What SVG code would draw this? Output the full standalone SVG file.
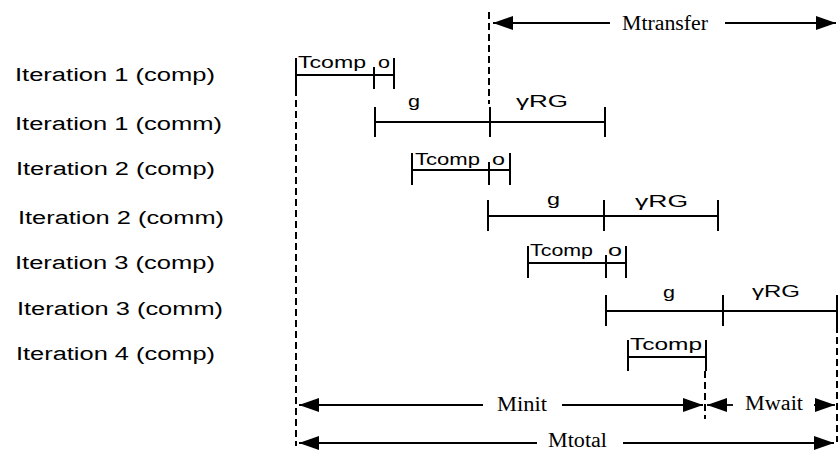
<svg xmlns="http://www.w3.org/2000/svg" width="838" height="450" viewBox="0 0 838 450">
<style>
.lbl{font-family:"Liberation Sans",Arial,sans-serif;font-size:18px;fill:#000}
.seg{font-family:"Liberation Sans",Arial,sans-serif;font-size:17px;fill:#000}
.mt{font-family:"Liberation Serif","Times New Roman",serif;font-size:20px;fill:#000}
.ln{stroke:#000;stroke-width:1.8;fill:none}
.tk{stroke:#000;stroke-width:2;fill:none}
.dash{stroke:#000;stroke-width:2;stroke-dasharray:7 4;fill:none}
.arr{stroke:#000;stroke-width:1.8;fill:none;marker-end:url(#ah)}
</style>
<defs>
<marker id="ah" markerUnits="userSpaceOnUse" markerWidth="20" markerHeight="14" refX="20" refY="7" orient="auto">
<path d="M0,0 L20,7 L0,14 z" fill="#000"/>
</marker>
</defs>
<rect width="838" height="450" fill="#fff"/>

<g id="labels">
<text class="lbl" x="15" y="81" textLength="200" lengthAdjust="spacingAndGlyphs">Iteration 1 (comp)</text>
<text class="lbl" x="15" y="130" textLength="207" lengthAdjust="spacingAndGlyphs">Iteration 1 (comm)</text>
<text class="lbl" x="16" y="175" textLength="199" lengthAdjust="spacingAndGlyphs">Iteration 2 (comp)</text>
<text class="lbl" x="18" y="224" textLength="206" lengthAdjust="spacingAndGlyphs">Iteration 2 (comm)</text>
<text class="lbl" x="15" y="269" textLength="200" lengthAdjust="spacingAndGlyphs">Iteration 3 (comp)</text>
<text class="lbl" x="17" y="315" textLength="206" lengthAdjust="spacingAndGlyphs">Iteration 3 (comm)</text>
<text class="lbl" x="16" y="360" textLength="199" lengthAdjust="spacingAndGlyphs">Iteration 4 (comp)</text>
</g>

<g id="iter1-comp">
<line class="ln" x1="296" y1="75" x2="394" y2="75"/>
<line class="tk" x1="296" y1="58" x2="296" y2="89"/>
<line class="tk" x1="374" y1="67" x2="374" y2="89"/>
<line class="tk" x1="394" y1="58" x2="394" y2="89"/>
<text class="seg" x="298" y="68" textLength="68" lengthAdjust="spacingAndGlyphs">Tcomp</text>
<text class="seg" x="378" y="68" textLength="12" lengthAdjust="spacingAndGlyphs">o</text>
</g>

<g id="iter1-comm">
<line class="ln" x1="375" y1="122" x2="605" y2="122"/>
<line class="tk" x1="375" y1="107" x2="375" y2="137"/>
<line class="tk" x1="490" y1="107" x2="490" y2="137"/>
<line class="tk" x1="605" y1="107" x2="605" y2="137"/>
<text class="seg" x="408" y="107" textLength="12" lengthAdjust="spacingAndGlyphs">g</text>
<text class="seg" x="516" y="107" textLength="52" lengthAdjust="spacingAndGlyphs">γRG</text>
</g>

<g id="iter2-comp">
<line class="ln" x1="412" y1="170" x2="510" y2="170"/>
<line class="tk" x1="412" y1="153" x2="412" y2="185"/>
<line class="tk" x1="489" y1="162" x2="489" y2="185"/>
<line class="tk" x1="510" y1="153" x2="510" y2="185"/>
<text class="seg" x="415" y="165" textLength="65" lengthAdjust="spacingAndGlyphs">Tcomp</text>
<text class="seg" x="492" y="165" textLength="13" lengthAdjust="spacingAndGlyphs">o</text>
</g>

<g id="iter2-comm">
<line class="ln" x1="488" y1="216" x2="718" y2="216"/>
<line class="tk" x1="488" y1="200" x2="488" y2="231"/>
<line class="tk" x1="604" y1="200" x2="604" y2="231"/>
<line class="tk" x1="718" y1="200" x2="718" y2="231"/>
<text class="seg" x="547" y="205" textLength="13" lengthAdjust="spacingAndGlyphs">g</text>
<text class="seg" x="635" y="207" textLength="53" lengthAdjust="spacingAndGlyphs">γRG</text>
</g>

<g id="iter3-comp">
<line class="ln" x1="528" y1="263" x2="626" y2="263"/>
<line class="tk" x1="528" y1="246" x2="528" y2="278"/>
<line class="tk" x1="606" y1="255" x2="606" y2="278"/>
<line class="tk" x1="626" y1="246" x2="626" y2="278"/>
<text class="seg" x="530" y="256" textLength="63" lengthAdjust="spacingAndGlyphs">Tcomp</text>
<text class="seg" x="608" y="256" textLength="14" lengthAdjust="spacingAndGlyphs">o</text>
</g>

<g id="iter3-comm">
<line class="ln" x1="606" y1="311" x2="837" y2="311"/>
<line class="tk" x1="606" y1="295" x2="606" y2="326"/>
<line class="tk" x1="723" y1="295" x2="723" y2="326"/>
<line class="tk" x1="837" y1="295" x2="837" y2="326"/>
<text class="seg" x="663" y="298" textLength="12" lengthAdjust="spacingAndGlyphs">g</text>
<text class="seg" x="752" y="297" textLength="48" lengthAdjust="spacingAndGlyphs">γRG</text>
</g>

<g id="iter4-comp">
<line class="ln" x1="628" y1="357" x2="706" y2="357"/>
<line class="tk" x1="628" y1="340" x2="628" y2="371"/>
<line class="tk" x1="706" y1="340" x2="706" y2="371"/>
<text class="seg" x="630" y="350" textLength="72" lengthAdjust="spacingAndGlyphs">Tcomp</text>
</g>

<g id="connectors">
<line class="dash" x1="296" y1="89" x2="296" y2="446"/>
<line class="dash" x1="489" y1="12" x2="489" y2="104"/>
<line class="dash" x1="705" y1="371" x2="705" y2="419"/>
<line class="dash" x1="837" y1="326" x2="837" y2="442"/>

<line class="arr" x1="610" y1="23" x2="493" y2="23"/>
<line class="arr" x1="725" y1="23" x2="836" y2="23"/>
<text class="mt" x="622" y="30" textLength="86" lengthAdjust="spacingAndGlyphs">Mtransfer</text>

<line class="arr" x1="483" y1="405" x2="299" y2="405"/>
<line class="arr" x1="562" y1="405" x2="703" y2="405"/>
<text class="mt" x="497" y="411" textLength="50" lengthAdjust="spacingAndGlyphs">Minit</text>

<line class="arr" x1="733" y1="405" x2="707" y2="405"/>
<line class="arr" x1="814" y1="405" x2="835" y2="405"/>
<text class="mt" x="745" y="410" textLength="58" lengthAdjust="spacingAndGlyphs">Mwait</text>

<line class="arr" x1="537" y1="443" x2="299" y2="443"/>
<line class="arr" x1="623" y1="443" x2="834" y2="443"/>
<text class="mt" x="548" y="447" font-size="18" textLength="59" lengthAdjust="spacingAndGlyphs">Mtotal</text>
</g>
</svg>
